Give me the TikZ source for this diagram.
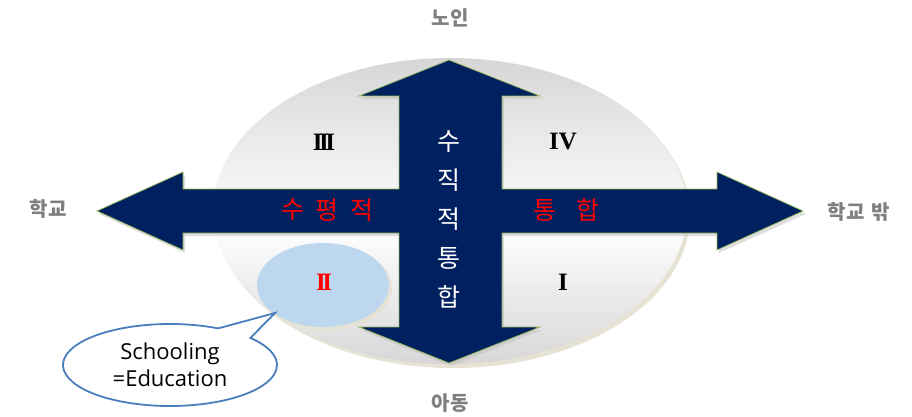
\documentclass[tikz,border=0pt]{standalone}
\usepackage{fontspec}
\usetikzlibrary{shapes.geometric,shapes.callouts}
\newfontfamily\kr{Noto Sans CJK KR}
\newfontfamily\lat{Open Sans}
\newfontfamily\rom{Liberation Serif}
\definecolor{navy}{HTML}{002060}
\definecolor{rim}{HTML}{9BBB59}
\definecolor{lblue}{HTML}{BDD7EE}
\definecolor{cblue}{HTML}{4A7EBB}
\definecolor{glabel}{HTML}{7F7F7F}
\definecolor{beige}{HTML}{E6E2D4}
\tikzset{
  outer/.style={font=\kr\bfseries\fontsize{20}{23}\selectfont, text=glabel},
  vchar/.style={font=\kr\fontsize{25}{28}\selectfont, text=white},
  hchar/.style={font=\kr\fontsize{25}{28}\selectfont, text=red},
  roman/.style={font=\rom\bfseries\fontsize{25}{27}\selectfont},
}
\newcommand{\rI}{I}
\newcommand{\rII}{I\kern-3.5pt I}
\newcommand{\rIII}{I\kern-3.5pt I\kern-3.5pt I}
\begin{document}
\begin{tikzpicture}[x=1pt,y=-1pt]
\useasboundingbox (0,0) rectangle (912,417);
% big ellipse with rim
\fill[beige] (453,215) ellipse [x radius=237, y radius=153];
\begin{scope}
  \clip (450,211) ellipse [x radius=237, y radius=153];
  \foreach \i in {0,...,78}{
    \pgfmathsetmacro\yy{57+4*\i}
    \pgfmathsetmacro\k{\yy<225 ? 16*(225-\yy)/167 : 16*(\yy-225)/140}
    \fill[black!\k] (212,\yy) rectangle (689,\yy+4.6);
  }
\end{scope}
% cross arrows
\fill[black!25, opacity=0.5] (451,63) -- (542,99) -- (504,99) -- (504,192) -- (719,192) -- (719,175) -- (806,214)
  -- (719,253) -- (719,236) -- (504,236) -- (504,330) -- (542,330) -- (451,366) -- (361,330) -- (401,330)
  -- (401,236) -- (185,236) -- (185,253) -- (99,214) -- (185,175) -- (185,192) -- (401,192) -- (401,99) -- (361,99) -- cycle;
\filldraw[fill=navy, draw=rim, line width=0.7pt] (449,60) -- (540,96) -- (502,96) -- (502,189) -- (717,189) -- (717,172) -- (803,211)
  -- (717,250) -- (717,233) -- (502,233) -- (502,327) -- (540,327) -- (449,363) -- (359,327) -- (399,327)
  -- (399,233) -- (183,233) -- (183,250) -- (97,211) -- (183,172) -- (183,189) -- (399,189) -- (399,96) -- (359,96) -- cycle;
% light blue ellipse
\fill[beige] (326,288) ellipse [x radius=66, y radius=42];
\fill[lblue] (323,285) ellipse [x radius=66, y radius=42];
% vertical text
\node[vchar] (v1) at (449,142) {수};
\node[vchar] (v2) at (449,180) {직};
\node[vchar] (v3) at (449,219) {적};
\node[vchar] (v4) at (449,258) {통};
\node[vchar] (v5) at (449,297) {합};
% horizontal text
\node[hchar] (h1) at (293,210) {수};
\node[hchar] (h2) at (327,210) {평};
\node[hchar] (h3) at (362,210) {적};
\node[hchar] (h4) at (545,210) {통};
\node[hchar] (h5) at (588,210) {합};
% roman numerals
\node[roman] (q3) at (324,142) {\rIII};
\node[roman] (q4) at (563,142) {IV};
\node[roman, text=red] (q2) at (324,282) {\rII};
\node[roman] (q1) at (563,282) {\rI};
% outer labels
\node[outer] (top) at (450,18) {노인};
\node[outer] (bot) at (450,403) {아동};
\node[outer] (lft) at (48,209) {학교};
\node[outer] (rgt) at (859,212) {학교\hspace{7pt}밖};
% callout
\coordinate (tip) at (275,313);
\node[ellipse callout, draw=cblue, line width=1.8pt, fill=white, minimum width=214pt, minimum height=82pt, inner sep=0pt,
  callout absolute pointer={(tip)}, callout pointer arc=22, align=center,
  font=\lat\fontsize{22}{27}\selectfont] (bubble) at (170,365) {Schooling\\=Education};
\end{tikzpicture}
\end{document}
